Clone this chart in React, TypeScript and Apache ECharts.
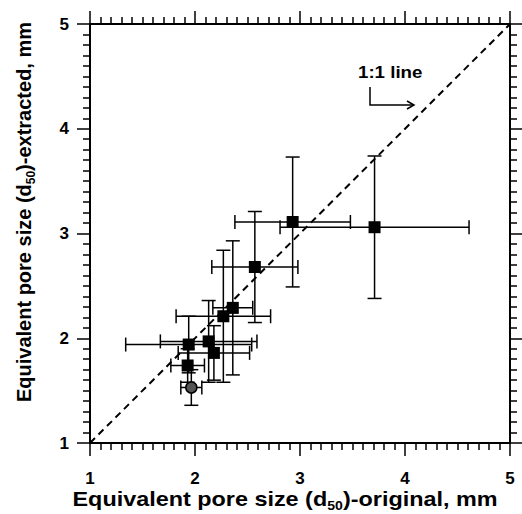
import React, { useEffect, useRef } from "react";
import * as echarts from "echarts";

// d50 original (x) vs extracted (y), with error half-widths
const xOriginal = [2.93, 3.71, 2.57, 2.36, 2.27, 1.94, 2.13, 2.18, 1.93];
const yExtracted = [3.11, 3.06, 2.68, 2.29, 2.21, 1.94, 1.97, 1.86, 1.74];
const xError = [0.55, 0.9, 0.41, 0.19, 0.45, 0.6, 0.46, 0.34, 0.16];
const yError = [0.62, 0.68, 0.53, 0.64, 0.63, 0.27, 0.39, 0.26, 0.16];

const circleX = [1.965];
const circleY = [1.53];
const circleXError = [0.1];
const circleYError = [0.17];

const oneToOne = [1, 5];
const tickValues = [1, 2, 3, 4, 5];

const FONT = "Liberation Sans, Arial, sans-serif";

export default function App() {
  const ref = useRef<HTMLDivElement>(null);
  useEffect(() => {
    if (!ref.current) return;
    const chart = echarts.init(ref.current, null, { renderer: "svg" });

    const sq = xOriginal.map((x, i) => [x, yExtracted[i], xError[i], yError[i]]);
    const ci = circleX.map((x, i) => [x, circleY[i], circleXError[i], circleYError[i]]);
    const errData = [...sq, ...ci];
    const cap = 7;

    const renderErr = (params: any, api: any) => {
      const x = api.value(0);
      const y = api.value(1);
      const xe = api.value(2);
      const ye = api.value(3);
      const l = api.coord([x - xe, y]);
      const r = api.coord([x + xe, y]);
      const t = api.coord([x, y + ye]);
      const b = api.coord([x, y - ye]);
      const st = { stroke: "#000", lineWidth: 1.5 };
      const ln = (x1: number, y1: number, x2: number, y2: number) => ({
        type: "line",
        shape: { x1, y1, x2, y2 },
        style: st,
      });
      return {
        type: "group",
        children: [
          ln(l[0], l[1], r[0], r[1]),
          ln(t[0], t[1], b[0], b[1]),
          ln(l[0], l[1] - cap, l[0], l[1] + cap),
          ln(r[0], r[1] - cap, r[0], r[1] + cap),
          ln(t[0] - cap, t[1], t[0] + cap, t[1]),
          ln(b[0] - cap, b[1], b[0] + cap, b[1]),
        ],
      };
    };

    const axisCommon = (showLabel: boolean) => ({
      type: "value" as const,
      min: 1,
      max: 5,
      interval: 1,
      axisLine: { show: true, onZero: false, lineStyle: { color: "#000", width: 2 } },
      axisTick: { show: true, inside: false, length: 13, lineStyle: { color: "#000", width: 1.5 } },
      minorTick: { show: true, splitNumber: 10, length: 7, lineStyle: { color: "#000", width: 1.5 } },
      splitLine: { show: false },
      minorSplitLine: { show: false },
      axisLabel: {
        show: showLabel,
        color: "#000",
        fontSize: 17,
        fontWeight: "bold" as const,
        fontFamily: FONT,
      },
    });

    const richTitle = {
      a: { fontSize: 20, fontWeight: "bold", fontFamily: FONT, fill: "#000", lineHeight: 26, verticalAlign: "middle" },
      s: { fontSize: 12, fontWeight: "bold", fontFamily: FONT, fill: "#000", lineHeight: 12, verticalAlign: "bottom" },
    };

    chart.setOption({
      animation: false,
      grid: { left: 90, right: 12, top: 24, bottom: 71, containLabel: false },
      xAxis: [
        { ...axisCommon(true), position: "bottom", axisLabel: { ...axisCommon(true).axisLabel, margin: 27, formatter: (v: number) => (tickValues.includes(v) ? String(v) : "") } },
        { ...axisCommon(false), position: "top" },
      ],
      yAxis: [
        { ...axisCommon(true), position: "left", axisLabel: { ...axisCommon(true).axisLabel, margin: 21 } },
        { ...axisCommon(false), position: "right" },
      ],
      graphic: [
        {
          type: "text",
          x: 285,
          y: 499,
          scaleX: 1.17,
          style: {
            text: "{a|Equivalent pore size (d}{s|50}{a|)-original, mm}",
            rich: richTitle,
            align: "center",
            verticalAlign: "middle",
          },
        },
        {
          type: "text",
          x: 24,
          y: 212,
          rotation: Math.PI / 2,
          style: {
            text: "{a|Equivalent pore size (d}{s|50}{a|)-extracted, mm}",
            rich: richTitle,
            align: "center",
            verticalAlign: "middle",
          },
        },
        {
          type: "text",
          x: 358,
          y: 64,
          scaleX: 1.1,
          style: {
            text: "1:1 line",
            fontSize: 17,
            fontWeight: "bold",
            fontFamily: FONT,
            fill: "#000",
          },
        },
        {
          type: "polyline",
          shape: { points: [[370, 87], [370, 105], [414, 105]] },
          style: { stroke: "#000", lineWidth: 1.5, fill: "none" },
        },
        {
          type: "polyline",
          shape: { points: [[407, 101], [414, 105], [407, 109]] },
          style: { stroke: "#000", lineWidth: 1.5, fill: "none" },
        },
      ],
      series: [
        {
          type: "line",
          data: [[oneToOne[0], oneToOne[0]], [oneToOne[1], oneToOne[1]]],
          symbol: "none",
          lineStyle: { color: "#000", width: 2, type: [7, 5] },
          z: 1,
        },
        {
          type: "custom",
          renderItem: renderErr,
          data: errData,
          encode: { x: 0, y: 1 },
          z: 2,
        },
        {
          type: "scatter",
          data: sq.map((d) => [d[0], d[1]]),
          symbol: "rect",
          symbolSize: 12,
          itemStyle: { color: "#000", opacity: 1 },
          z: 3,
        },
        {
          type: "scatter",
          data: ci.map((d) => [d[0], d[1]]),
          symbol: "circle",
          symbolSize: 11,
          itemStyle: { color: "#555", borderColor: "#000", borderWidth: 1.5, opacity: 1 },
          z: 3,
        },
      ],
    });
    return () => chart.dispose();
  }, []);
  return <div ref={ref} style={{ width: 522, height: 514, position: "absolute", left: 0, top: 0 }} />;
}
